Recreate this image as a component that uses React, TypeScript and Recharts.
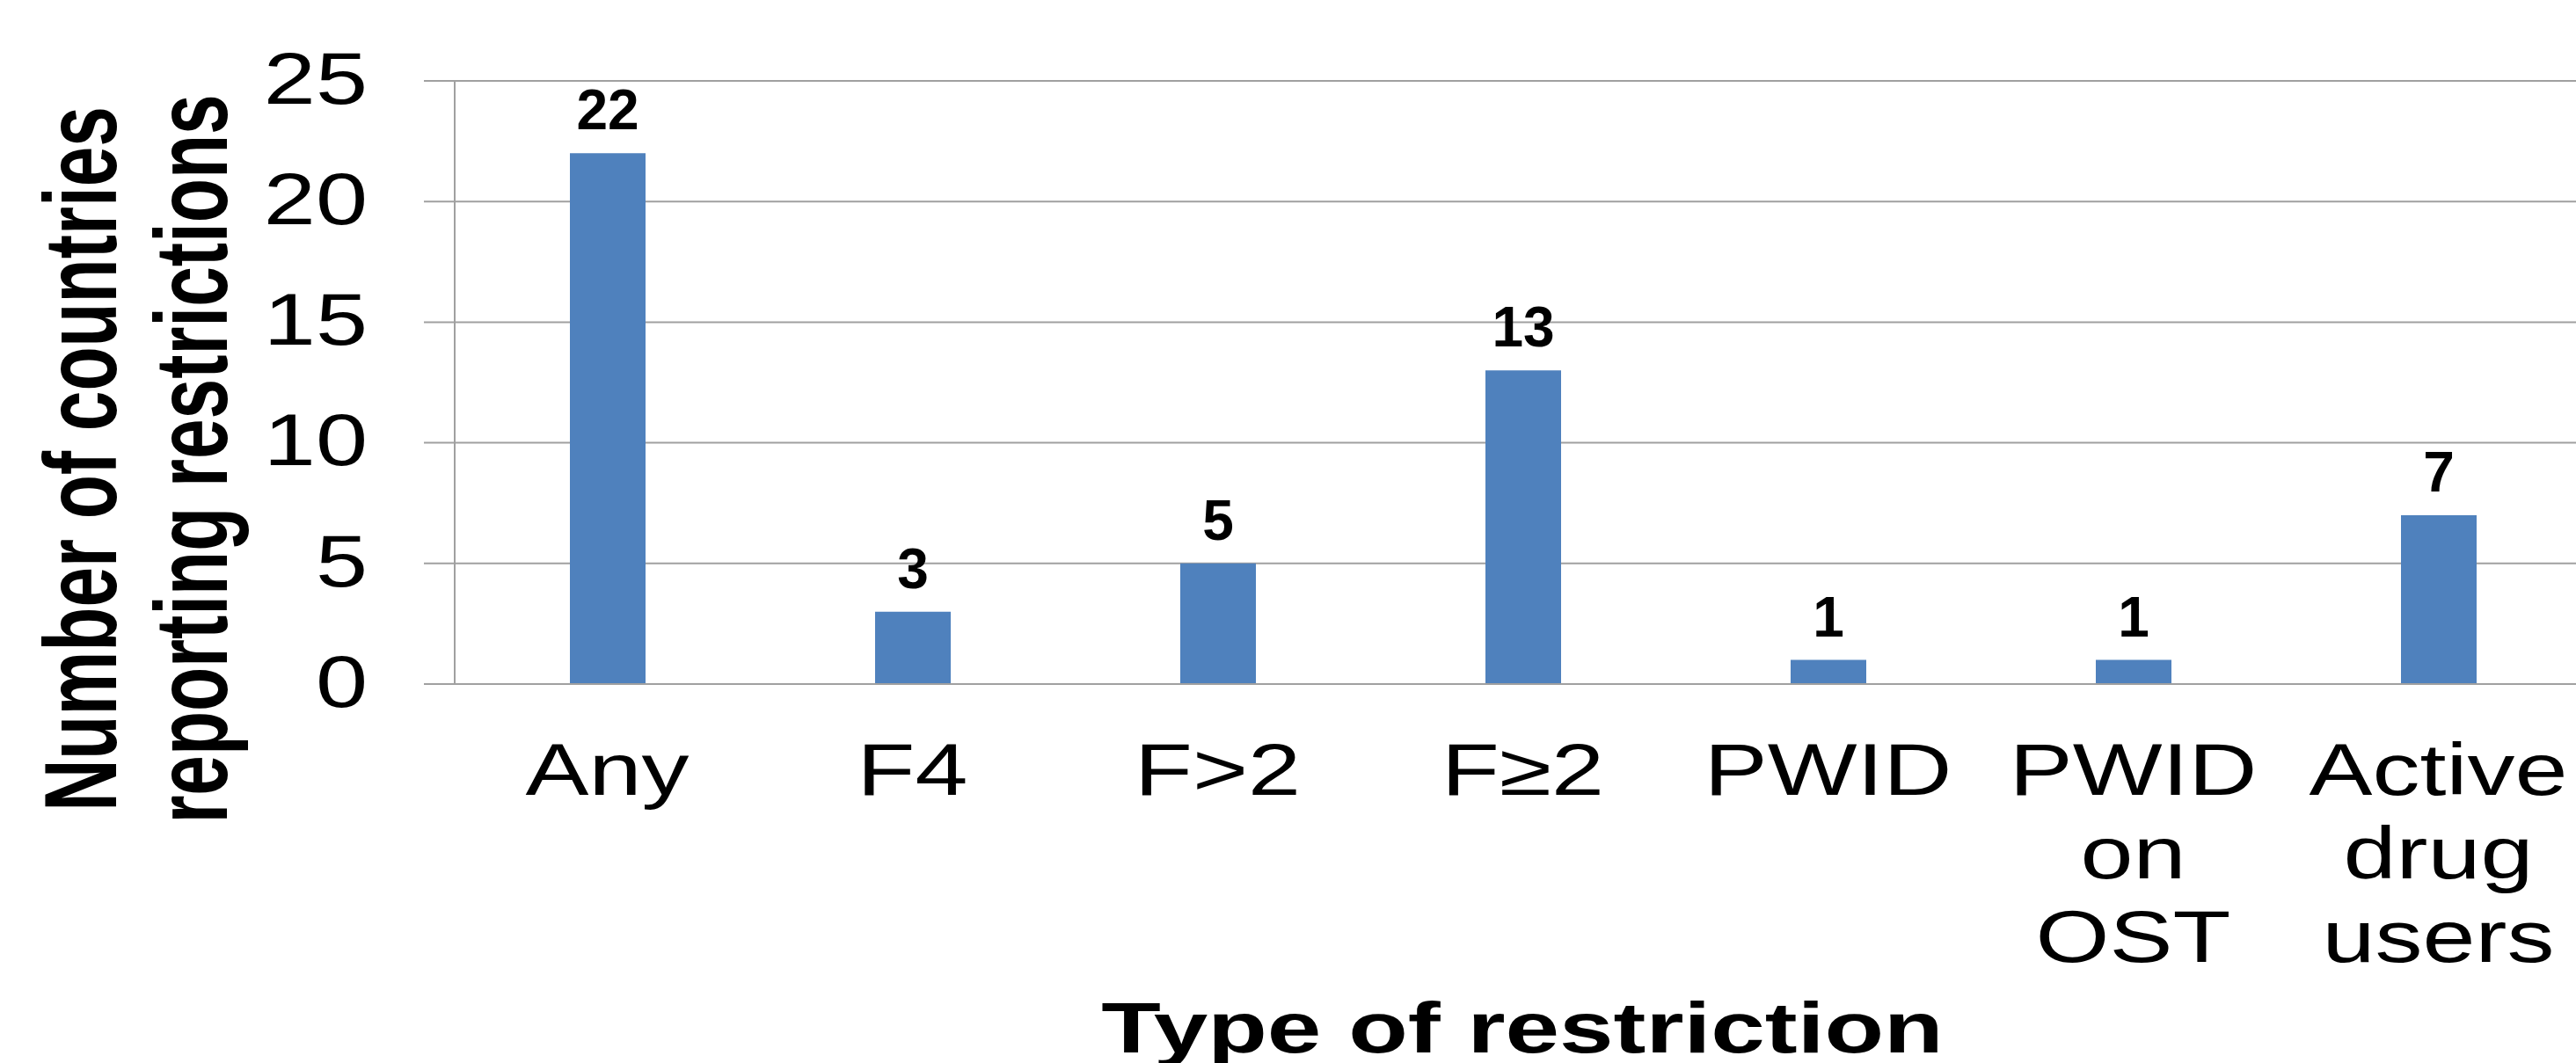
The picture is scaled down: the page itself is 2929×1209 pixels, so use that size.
import React from "react";
import { BarChart, Bar, XAxis, YAxis, CartesianGrid, LabelList } from "recharts";

const categories = ["Any", "F4", "F>2", "F≥2", "PWID", "PWID on OST", "Active drug users"];
const countries = [22, 3, 5, 13, 1, 1, 7];
const yTicks = [0, 5, 10, 15, 20, 25];
const yTitle = ["Number of countries", "reporting restrictions"];
const xTitle = "Type of restriction";

const data = categories.map((name, i) => ({ name, countries: countries[i] }));

const FONT = '"Liberation Sans", Arial, Helvetica, sans-serif';
const GRID = "#a0a0a0";
const BAR = "#4f81bd";

const YTick = (props: any) => {
  const { x, y, payload } = props;
  return (
    <text
      transform={`translate(${x},${y}) scale(1.28,1)`}
      textAnchor="end"
      dy="0.31em"
      fontSize={83}
      fontFamily={FONT}
      fill="#000"
    >
      {payload.value}
    </text>
  );
};

// category names wrap word by word, like the original
const XTick = (props: any) => {
  const { x, y, payload } = props;
  const lines = String(payload.value).split(" ");
  return (
    <g transform={`translate(${x},${y})`}>
      {lines.map((line, i) => (
        <text
          key={i}
          transform={`translate(0,${126 + i * 95}) scale(1.3,1)`}
          textAnchor="middle"
          fontSize={83}
          fontFamily={FONT}
          fill="#000"
        >
          {line}
        </text>
      ))}
    </g>
  );
};

const ValueLabel = (props: any) => {
  const { x, y, width, value } = props;
  return (
    <text
      x={x + width / 2}
      y={y - 27}
      textAnchor="middle"
      fontSize={64}
      fontWeight="bold"
      fontFamily={FONT}
      fill="#000"
    >
      {value}
    </text>
  );
};

const YTitle = () => (
  <g>
    {yTitle.map((t, i) => (
      <text
        key={t}
        transform={`translate(${132 + i * 126},522) scale(1.42,1) rotate(-90)`}
        textAnchor="middle"
        fontSize={82}
        fontWeight="bold"
        fontFamily={FONT}
        fill="#000"
      >
        {t}
      </text>
    ))}
  </g>
);

const XTitle = () => (
  <text
    transform="translate(1731,1197) scale(1.35,1)"
    textAnchor="middle"
    fontSize={82}
    fontWeight="bold"
    fontFamily={FONT}
    fill="#000"
  >
    {xTitle}
  </text>
);

export default function App() {
  return (
    <div
      style={{
        position: "fixed",
        left: 0,
        top: 0,
        width: 2929,
        height: 1209,
        overflow: "hidden",
        background: "#fff",
      }}
    >
      <BarChart
        width={2960}
        height={1209}
        data={data}
        margin={{ top: 92, right: 14, bottom: 0, left: 0 }}
      >
        <CartesianGrid vertical={false} stroke={GRID} strokeWidth={2} />
        <XAxis
          dataKey="name"
          interval={0}
          height={431}
          tickLine={false}
          tickSize={0}
          tickMargin={0}
          axisLine={{ stroke: GRID, strokeWidth: 2 }}
          tick={<XTick />}
          label={<XTitle />}
        />
        <YAxis
          width={517}
          domain={[0, 25]}
          ticks={yTicks}
          tickSize={35}
          tickMargin={64}
          tickLine={{ stroke: GRID, strokeWidth: 2 }}
          axisLine={{ stroke: GRID, strokeWidth: 2 }}
          tick={<YTick />}
          label={<YTitle />}
        />
        <Bar dataKey="countries" fill={BAR} barSize={86} isAnimationActive={false}>
          <LabelList dataKey="countries" content={<ValueLabel />} />
        </Bar>
      </BarChart>
    </div>
  );
}
